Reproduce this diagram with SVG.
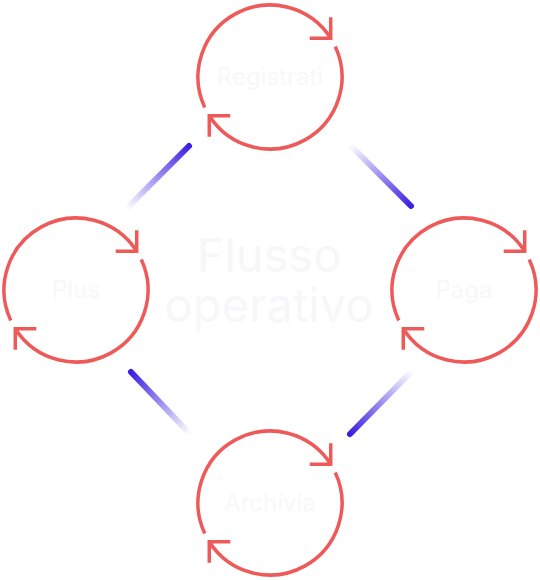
<svg xmlns="http://www.w3.org/2000/svg" xmlns:xlink="http://www.w3.org/1999/xlink" width="540" height="580" viewBox="0 0 540 580">
  <style>
    .ring { fill: none; stroke: #ee5a5a; stroke-width: 3.5; stroke-linecap: butt; stroke-linejoin: miter; }
    .label { font-family: Inter, "Liberation Sans", sans-serif; font-size: 24px; fill: #f8f8f8; text-anchor: middle; }
    .title { font-family: Inter, "Liberation Sans", sans-serif; font-size: 47px; fill: #f7f7f9; text-anchor: middle; }
    .flow { fill: none; stroke-width: 6; stroke-linecap: round; }
  </style>
  <defs>
    <linearGradient id="fade">
      <stop offset="0" stop-color="#3a20e2" stop-opacity="0"/>
      <stop offset="1" stop-color="#3a20e2" stop-opacity="1"/>
    </linearGradient>
    <linearGradient id="gTL" xlink:href="#fade" gradientUnits="userSpaceOnUse" x1="126" y1="209" x2="189" y2="146"/>
    <linearGradient id="gTR" xlink:href="#fade" gradientUnits="userSpaceOnUse" x1="350" y1="145" x2="411" y2="206"/>
    <linearGradient id="gBR" xlink:href="#fade" gradientUnits="userSpaceOnUse" x1="412" y1="371" x2="350" y2="434"/>
    <linearGradient id="gBL" xlink:href="#fade" gradientUnits="userSpaceOnUse" x1="190" y1="434" x2="131" y2="372"/>
    <g id="cycle">
      <path class="ring" d="M -65.25 30.43 A 72 72 0 0 1 60.72 -38.69"/>
      <path class="ring" d="M 60.72 -59.69 V -38.69 H 39.72"/>
      <path class="ring" d="M 65.25 -30.43 A 72 72 0 0 1 -60.72 38.69"/>
      <path class="ring" d="M -60.72 59.69 V 38.69 H -39.72"/>
    </g>
  </defs>

  <g id="title">
    <text class="title" x="269" y="272">Flusso</text>
    <text class="title" x="269" y="322">operativo</text>
  </g>

  <g id="connectors">
    <line class="flow" stroke="url(#gTL)" x1="126" y1="209" x2="189" y2="146"/>
    <line class="flow" stroke="url(#gTR)" x1="350" y1="145" x2="411" y2="206"/>
    <line class="flow" stroke="url(#gBR)" x1="412" y1="371" x2="350" y2="434"/>
    <line class="flow" stroke="url(#gBL)" x1="190" y1="434" x2="131" y2="372"/>
  </g>

  <g id="node-registrati" transform="translate(270 77)">
    <use xlink:href="#cycle"/>
    <text class="label" x="0" y="8">Registrati</text>
  </g>
  <g id="node-paga" transform="translate(464 290)">
    <use xlink:href="#cycle"/>
    <text class="label" x="0" y="8">Paga</text>
  </g>
  <g id="node-archivia" transform="translate(270 503)">
    <use xlink:href="#cycle"/>
    <text class="label" x="0" y="8">Archivia</text>
  </g>
  <g id="node-plus" transform="translate(76 290)">
    <use xlink:href="#cycle"/>
    <text class="label" x="0" y="8">Plus</text>
  </g>
</svg>
